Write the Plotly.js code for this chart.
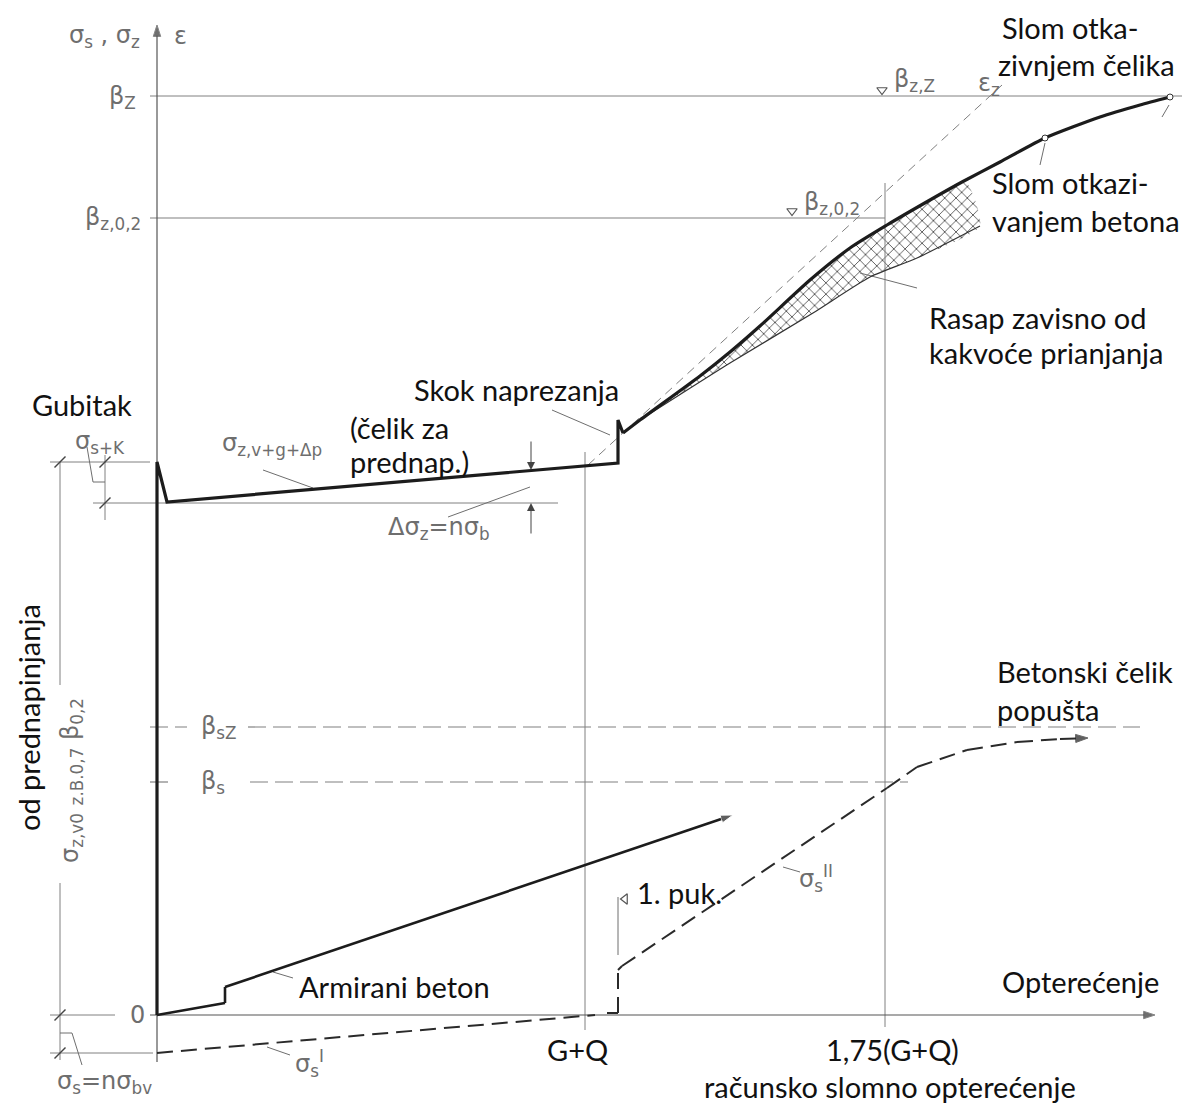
<!DOCTYPE html>
<html>
<head>
<meta charset="utf-8">
<script src="https://cdn.plot.ly/plotly-3.0.1.min.js"></script>
<style>html,body{margin:0;padding:0;background:#fff;}#chart{width:1182px;height:1110px;}</style>
</head>
<body>
<div id="chart"></div>
<script>
// x = load (arbitrary drawing units, 0 at origin), y = stress (arbitrary units, 0 at zero line)
// Reference levels
const betaZ = 919, betaZ02 = 797, betaSZ = 288, betaS = 233;
const loadGQ = 428, loadUlt = 728;
const prestressTop = 553, prestressEff = 512, concreteStress = -38;

// Prestressing steel stress sigma_z (thick line)
const sigmaZx = [0, 0, 10, 461, 461, 466, 483, 543, 573, 603, 653, 693, 730, 773, 805, 843, 888, 943, 983, 1013];
const sigmaZy = [0, 553, 513, 552, 595, 582, 595, 639, 663, 689, 735, 767, 790, 815, 833, 853, 877, 898, 910, 918];
// Lower limit of scatter band (bond quality)
const bandLowX = [483, 573, 656, 713, 760, 823];
const bandLowY = [595, 652, 702, 738, 757, 789];
const bandUpX = [483, 543, 573, 603, 653, 693, 730, 773, 808];
const bandUpY = [595, 639, 663, 689, 735, 767, 790, 815, 834];
// Strain eps_z (thin dashed)
const epsZx = [431, 845];
const epsZy = [550, 930];
// Reinforced concrete (Armirani beton)
const armX = [0, 68, 68, 576];
const armY = [0, 12, 28, 200];
// sigma_s^I and sigma_s^II (dashed)
const ss1X = [0, 430, 438];
const ss1Y = [-38, -1, 0];
const ss2X = [450, 461, 461, 465, 730, 760, 810, 860, 903, 931];
const ss2Y = [2, 2, 45, 49, 227, 248, 265, 273, 276, 277];
// failure points
const failX = [888, 1013];
const failY = [877, 918];

const INK = '#1c1c1c', GREY = '#6e6e6e', THIN = '#808080';
const traces = [];
function ln(x, y, color, width, dash, extra) {
  const t = {x: x, y: y, mode: 'lines', type: 'scatter', hoverinfo: 'skip',
    line: {color: color, width: width, dash: dash || 'solid'}};
  if (extra) Object.assign(t, extra);
  traces.push(t);
}

// hatched scatter band
traces.push({
  x: bandUpX.concat(bandLowX.slice().reverse()),
  y: bandUpY.concat(bandLowY.slice().reverse()),
  type: 'scatter', mode: 'lines', fill: 'toself', hoverinfo: 'skip',
  line: {width: 0, color: 'rgba(0,0,0,0)', shape: 'spline', smoothing: 0.6},
  fillcolor: 'rgba(255,255,255,0)',
  fillpattern: {shape: 'x', size: 8, solidity: 0.18, fgcolor: '#333', bgcolor: 'rgba(255,255,255,0)'}
});

// reference horizontal lines
ln([-7, 1025], [betaZ, betaZ], THIN, 1);
ln([-7, loadUlt], [betaZ02, betaZ02], THIN, 1.2);
ln([-7, 30], [betaSZ, betaSZ], THIN, 1.2, '18px,7px');
ln([91, 983], [betaSZ, betaSZ], THIN, 1.2, '18px,7px');
ln([-7, 18], [betaS, betaS], THIN, 1.2, '18px,7px');
ln([93, 751], [betaS, betaS], THIN, 1.2, '18px,7px');
// vertical load lines
ln([loadGQ, loadGQ], [563, -15], THIN, 1);
ln([loadUlt, loadUlt], [832, -12], THIN, 1);
// dimension / auxiliary lines on the left
ln([-107, -7], [prestressTop, prestressTop], THIN, 1);
ln([-64, 401], [prestressEff, prestressEff], THIN, 1);
ln([-97, -97], [prestressTop, 330], THIN, 1);
ln([-97, -97], [132, -45], THIN, 1);
ln([-52, -52], [560, 495], THIN, 1);
ln([-107, -42], [0, 0], THIN, 1);
ln([-107, -4], [concreteStress, concreteStress], THIN, 1);
// leaders
ln([-70, -64, -52], [568, 533, 533], GREY, 1);
ln([106, 156], [545, 527], GREY, 1);
ln([291, 373], [498, 528], GREY, 1);
ln([395, 453], [605, 580], GREY, 1);
ln([760, 703], [727, 742], GREY, 1);
ln([883, 888], [850, 872], GREY, 1);
ln([1005, 1012], [898, 910], GREY, 1);
ln([116, 136], [43, 37], GREY, 1);
ln([110, 133], [-32, -40], GREY, 1);
ln([626, 643], [148, 143], GREY, 1);
ln([-97, -85, -75], [-18, -18, -50], GREY, 1);
ln([461, 461], [60, 118], GREY, 1);

// axes
ln([0, 0], [-47, 990], '#555', 1.2, 'solid', {mode: 'lines+markers', marker: {symbol: 'arrow', angleref: 'previous', size: [0, 12], color: '#333'}});
ln([-7, 998], [0, 0], '#555', 1.2, 'solid', {mode: 'lines+markers', marker: {symbol: 'arrow', angleref: 'previous', size: [0, 12], color: '#333'}});

// strain
ln(epsZx, epsZy, THIN, 1, '9px,6px');
// lower band limit
ln(bandLowX, bandLowY, '#333', 1.2, 'solid', {line: {color: '#333', width: 1.2, shape: 'spline', smoothing: 0.6}});
// main curves: straight part then smooth curved part of sigma_z
ln(sigmaZx.slice(0, 6), sigmaZy.slice(0, 6), INK, 3.2);
ln(sigmaZx.slice(5), sigmaZy.slice(5), INK, 3.2, 'solid', {line: {color: INK, width: 3.2, shape: 'spline', smoothing: 0.6}});
ln(armX, armY, INK, 2.6, 'solid', {mode: 'lines+markers', marker: {symbol: 'arrow', angleref: 'previous', size: [0, 0, 0, 13], color: INK}});
ln(ss1X, ss1Y, '#2a2a2a', 2, '16px,8px');
ln(ss2X, ss2Y, '#2a2a2a', 2, '16px,8px', {mode: 'lines+markers', marker: {symbol: 'arrow', angleref: 'previous', size: [0, 0, 0, 0, 0, 0, 0, 0, 0, 13], color: INK}});

// markers
traces.push({x: failX, y: failY, mode: 'markers', type: 'scatter', hoverinfo: 'skip',
  marker: {symbol: 'circle', size: 6, color: '#fff', line: {color: '#333', width: 1}}});
traces.push({x: [-97, -52, -52, -97, -97], y: [prestressTop, prestressTop, prestressEff, 0, concreteStress],
  mode: 'markers', type: 'scatter', hoverinfo: 'skip',
  marker: {symbol: 'line-ne', size: 11, color: '#444', line: {color: '#444', width: 1.4}}});
traces.push({x: [725, 635], y: [925, 804], mode: 'markers', type: 'scatter', hoverinfo: 'skip',
  marker: {symbol: 'triangle-down-open', size: 9, color: '#555', line: {color: '#555', width: 1.2}}});
traces.push({x: [468], y: [116], mode: 'markers', type: 'scatter', hoverinfo: 'skip',
  marker: {symbol: 'triangle-left-open', size: 9, color: '#555', line: {color: '#555', width: 1.2}}});

const BF = {family: 'Lato, "Open Sans", sans-serif', size: 29, color: '#111'};
const GF = {family: '"DejaVu Sans", sans-serif', size: 24, color: GREY};
function txt(text, x, y, font, xanchor, extra) {
  const a = {text: text, x: x, y: y, xref: 'x', yref: 'y', showarrow: false, font: font,
    xanchor: xanchor || 'left', yanchor: 'middle'};
  if (extra) Object.assign(a, extra);
  return a;
}
function arrow(x, y, ax, ay) {
  return {x: x, y: y, ax: ax, ay: ay, xref: 'x', yref: 'y', axref: 'x', ayref: 'y', text: '',
    showarrow: true, arrowhead: 2, arrowsize: 1.6, arrowwidth: 1, arrowcolor: '#444'};
}

const annotations = [
  txt('Slom otka-', 843, 988, BF),
  txt('zivnjem čelika', 1020, 951, BF, 'right'),
  txt('Slom otkazi-', 833, 833, BF),
  txt('vanjem betona', 833, 795, BF),
  txt('Rasap zavisno od', 770, 698, BF),
  txt('kakvoće prianjanja', 770, 663, BF),
  txt('Gubitak', -127, 611, BF),
  txt('Skok naprezanja', 255, 626, BF),
  txt('(čelik za', 191, 588, BF),
  txt('prednap.)', 191, 554, BF),
  txt('Betonski čelik', 838, 344, BF),
  txt('popušta', 838, 306, BF),
  txt('Opterećenje', 843, 34, BF),
  txt('G+Q', 420, -34, BF, 'center'),
  txt('1,75(G+Q)', 735, -34, BF, 'center'),
  txt('računsko slomno opterećenje', 733, -71, BF, 'center'),
  txt('Armirani beton', 140, 29, BF),
  txt('1. puk.', 478, 123, BF),
  txt('od prednapinjanja', -129, 297, BF, 'center', {textangle: -90}),

  txt('σ<sub>s</sub> , σ<sub>z</sub>', -15, 979, GF, 'right'),
  txt('ε', 23, 979, GF, 'center'),
  txt('β<sub>Z</sub>', -19, 918, GF, 'right'),
  txt('β<sub>z,0,2</sub>', -14, 797, GF, 'right'),
  txt('σ<sub>s+K</sub>', -84, 573, GF),
  txt('σ<sub>z,v+g+Δp</sub>', 63, 571, GF),
  txt('Δσ<sub>z</sub>=nσ<sub>b</sub>', 229, 487, GF),
  txt('β<sub>z,Z</sub>', 735, 935, GF),
  txt('ε<sub>z</sub>', 819, 931, GF),
  txt('β<sub>z,0,2</sub>', 645, 812, GF),
  txt('β<sub>sZ</sub>', 42, 288, GF),
  txt('β<sub>s</sub>', 42, 233, GF),
  txt('0', -20, 0, GF, 'center'),
  txt('σ<sub>s</sub><sup>II</sup>', 640, 137, GF),
  txt('σ<sub>s</sub><sup>I</sup>', 136, -48, GF),
  txt('σ<sub>s</sub>=nσ<sub>bv</sub>', -102, -67, GF),
  txt('σ<sub>z,v0</sub> <sub>z.B.0,7</sub> β<sub>0,2</sub>', -86, 234, GF, 'center', {textangle: -90}),

  arrow(374, 545, 374, 575),
  arrow(374, 512, 374, 480)
];

const layout = {
  width: 1182, height: 1110,
  margin: {l: 0, r: 0, t: 0, b: 0},
  paper_bgcolor: '#fff', plot_bgcolor: '#fff',
  showlegend: false,
  xaxis: {range: [-157, 1025], visible: false, fixedrange: true},
  yaxis: {range: [-95, 1015], visible: false, fixedrange: true},
  annotations: annotations
};
Plotly.newPlot('chart', traces, layout, {displayModeBar: false, staticPlot: true});
</script>
</body>
</html>
